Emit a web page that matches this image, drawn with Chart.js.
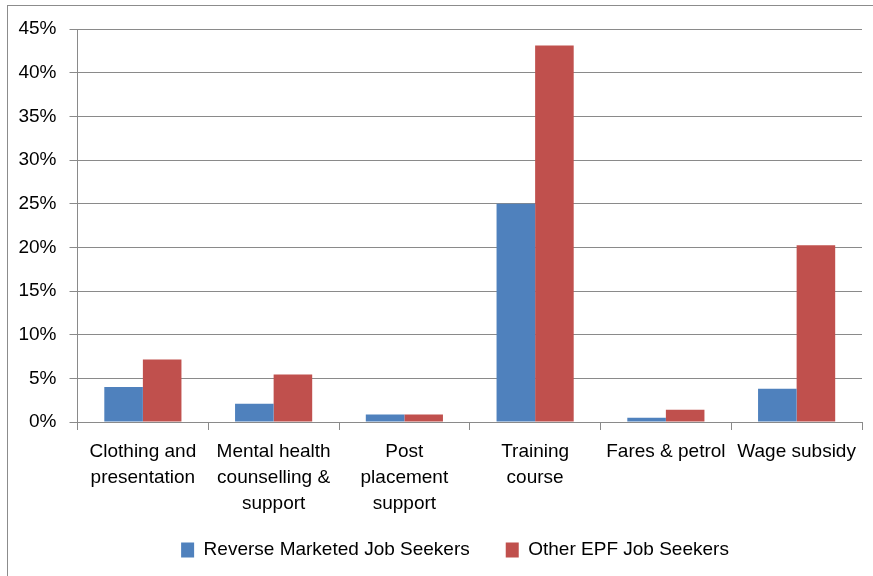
<!DOCTYPE html>
<html>
<head>
<meta charset="utf-8">
<script src="https://cdn.jsdelivr.net/npm/chart.js@4/dist/chart.umd.min.js"></script>
<style>
  body { margin: 0; background: #fff; }
  #frame { position: absolute; left: 7px; top: 5px; width: 900px; height: 600px; border: 1px solid #8c8c8c; }
  #wrap { position: absolute; left: 0; top: 0; width: 873px; height: 576px; }
</style>
</head>
<body>
<div id="frame"></div>
<div id="wrap"><canvas id="chart" width="873" height="576"></canvas></div>
<script>
// data (percent)
const categories = [
    ["Clothing and", "presentation"],
    ["Mental health", "counselling &", "support"],
    ["Post", "placement", "support"],
    ["Training", "course"],
    ["Fares & petrol"],
    ["Wage subsidy"],
];
const reverseMarketed = [4.0, 2.1, 0.85, 25.0, 0.5, 3.8];
const otherEpf = [7.15, 5.45, 0.85, 43.1, 1.4, 20.25];
const seriesNames = ["Reverse Marketed Job Seekers", "Other EPF Job Seekers"];
const yTicks = [0, 5, 10, 15, 20, 25, 30, 35, 40, 45];

const gridColor = "#8a8a8a";
const font = "'Liberation Sans', Arial, sans-serif";

// put the legend where it sits in the original
const legendShift = {
    id: "legendShift",
    afterLayout(chart) {
        const lg = chart.legend;
        lg.left = 0;
        lg.right = 910;
        lg.width = 910;
        lg.top = 504.5;
        lg.bottom = 569.5;
    }
};

const ctx = document.getElementById("chart").getContext("2d");
new Chart(ctx, {
    type: "bar",
    data: {
        labels: categories,
        datasets: [
            {
                label: seriesNames[0],
                data: reverseMarketed,
                backgroundColor: "#4f81bd",
            },
            {
                label: seriesNames[1],
                data: otherEpf,
                backgroundColor: "#c0504d",
            },
        ],
    },
    options: {
        responsive: false,
        animation: false,
        layout: { padding: { left: 0, right: 11, top: 29, bottom: -9 } },
        datasets: { bar: { categoryPercentage: 0.59, barPercentage: 1.0 } },
        plugins: {
            tooltip: { enabled: false },
            legend: {
                position: "bottom",
                labels: {
                    boxWidth: 13,
                    boxHeight: 15,
                    padding: 36,
                    color: "#000",
                    font: { family: font, size: 19 },
                },
            },
        },
        scales: {
            x: {
                afterFit(scale) { scale.height = 98; },
                grid: { drawOnChartArea: false, drawTicks: true, tickLength: 8, color: gridColor, offset: true },
                border: { color: gridColor, width: 1 },
                ticks: {
                    color: "#000",
                    padding: 9,
                    maxRotation: 0,
                    autoSkip: false,
                    font: { family: font, size: 19, lineHeight: 1.37 },
                },
            },
            y: {
                min: 0,
                max: 45,
                afterFit(scale) { scale.width = 77.5; },
                afterBuildTicks(scale) { scale.ticks = yTicks.map(v => ({ value: v })); },
                grid: { color: gridColor, tickLength: 8, lineWidth: 1 },
                border: { color: gridColor, width: 1 },
                ticks: {
                    color: "#000",
                    padding: 13,
                    font: { family: font, size: 19 },
                    callback: v => v + "%",
                },
            },
        },
    },
    plugins: [legendShift],
});
</script>
</body>
</html>
